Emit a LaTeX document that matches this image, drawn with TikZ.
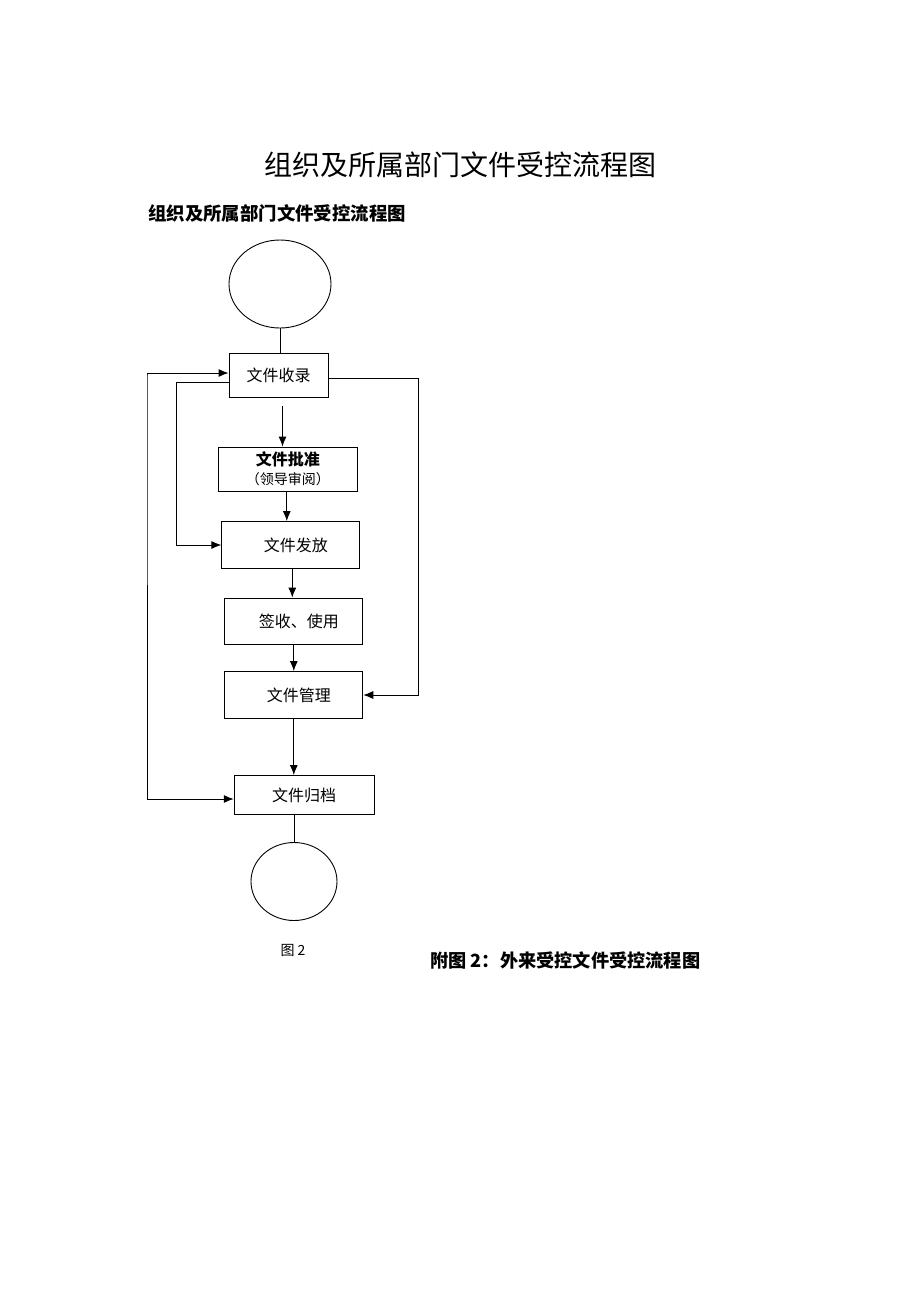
\documentclass[tikz,border=0pt]{standalone}
\usepackage{fontspec}
\usetikzlibrary{arrows.meta,shapes.geometric}
\newfontfamily\cjk{Noto Sans CJK SC}
\tikzset{
  box/.style={draw,line width=0.9pt,inner sep=0pt,font=\cjk\fontsize{16}{18}\selectfont,align=center},
  term/.style={draw,ellipse,line width=0.9pt,inner sep=0pt},
  arr/.style={line width=0.9pt,-{Latex[length=10pt,width=8pt]}},
  darr/.style={line width=0.9pt,{Latex[length=10pt,width=8pt]}-{Latex[length=10pt,width=8pt]}},
  ln/.style={line width=0.9pt}
}
\begin{document}
\begin{tikzpicture}[x=1pt,y=-1pt]
\fill[white] (0,0) rectangle (920,1302);
\path[use as bounding box] (0,0) rectangle (920,1302);

\node[font=\cjk\fontsize{28}{32}\selectfont] (title) at (460,165) {组织及所属部门文件受控流程图};
\node[anchor=west,font=\cjk\bfseries\fontsize{18.4}{21}\selectfont,inner sep=0pt] (sub) at (148,213) {组织及所属部门文件受控流程图};

\node[term,minimum width=102pt,minimum height=88pt] (c1) at (280,284) {};
\node[box,minimum width=99pt,minimum height=44pt] (b1) at (278.5,375) {文件收录};
\node[box,minimum width=139pt,minimum height=44pt] (b2) at (287.8,469) {{\bfseries 文件批准}\\[1pt]{\fontsize{14}{16}\selectfont （领导审阅）}};
\node[box,minimum width=138pt,minimum height=47pt] (b3) at (290.8,545) {\hspace*{10pt}文件发放};
\node[box,minimum width=138pt,minimum height=46pt] (b4) at (293.8,621) {\hspace*{10pt}签收、使用};
\node[box,minimum width=138pt,minimum height=47pt] (b5) at (293.8,695) {\hspace*{10pt}文件管理};
\node[box,minimum width=140pt,minimum height=39pt] (b7) at (304.2,795) {文件归档};
\node[term,minimum width=86pt,minimum height=78pt] (c2) at (294,881.5) {};

\coordinate (xout) at (147,0);
\coordinate (xin) at (176,0);
\coordinate (xr) at (418,0);

\draw[ln] (c1.south) -- (c1.south |- b1.north);
\draw[arr] ([xshift=4pt,yshift=-9pt]b1.south) -- ([xshift=4pt]b1.south |- b2.north);
\draw[arr] ([xshift=-1pt]b2.south) -- ([xshift=-1pt]b2.south |- b3.north);
\draw[arr] ([xshift=1.5pt]b3.south) -- ([xshift=1.5pt]b3.south |- b4.north);
\draw[arr] (b4.south) -- (b4.south |- b5.north);
\draw[arr] (b5.south) -- (b5.south |- b7.north);
\draw[ln] (c2.north |- b7.south) -- (c2.north);

\draw[darr] ([yshift=-4pt]b7.west) -| (xout |- b1.west) |- ([yshift=2pt]b1.west);
\draw[arr] ([yshift=-7pt]b1.west) -| (xin |- b3.west) -- (b3.west);
\draw[arr] ([yshift=-3pt]b1.east) -| (xr |- b5.east) -- (b5.east);

\node[font=\cjk\fontsize{14}{16}\selectfont] (fig) at (293,950) {图 2};
\node[anchor=west,inner sep=0pt,font=\cjk\bfseries\fontsize{18.2}{20}\selectfont] (app) at (430,960) {附图 2：外来受控文件受控流程图};
\end{tikzpicture}
\end{document}
